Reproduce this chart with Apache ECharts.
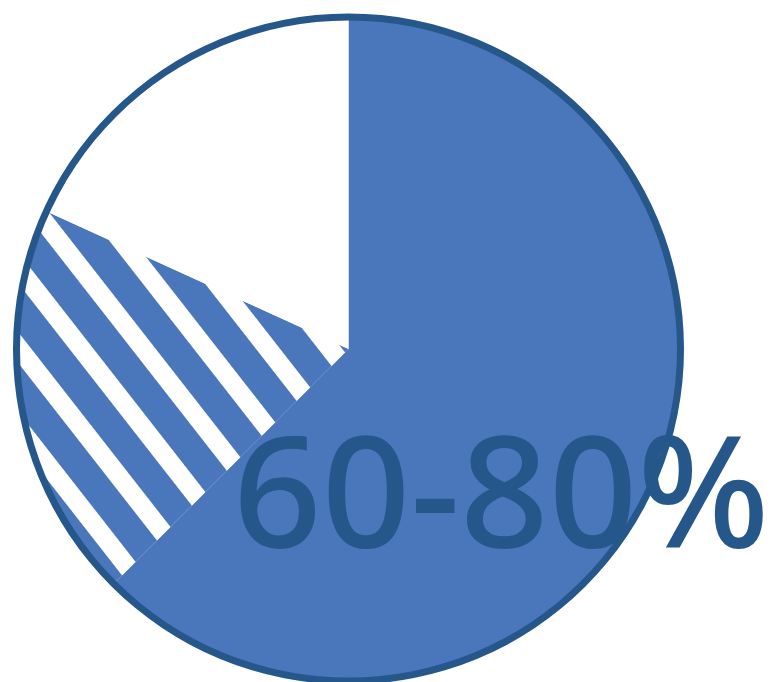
<!DOCTYPE html>
<html>
<head>
<meta charset="utf-8">
<script src="https://cdn.jsdelivr.net/npm/echarts@6/dist/echarts.min.js"></script>
<style>
  html, body { margin: 0; padding: 0; background: #ffffff; }
  #chart { width: 773px; height: 682px; }
</style>
</head>
<body>
<div id="chart"></div>
<script>
// ---- data ----
var categories = ['Filled', 'Partial', 'Empty'];
var values = [62.5, 19.3, 18.2];
var labelText = '60-80%';

// ---- styles ----
var solidBlue = '#4a77bb';
var darkBlue = '#26578b';

// diagonal stripe pattern (blue bands on white)
var tile = document.createElement('canvas');
tile.width = 10; tile.height = 49;
var tctx = tile.getContext('2d');
tctx.fillStyle = '#ffffff';
tctx.fillRect(0, 0, 10, 49);
tctx.fillStyle = solidBlue;
tctx.fillRect(0, 19, 10, 30);
var stripePattern = {
  image: tile,
  repeat: 'repeat',
  x: 48, y: 211,
  rotation: 52 * Math.PI / 180
};

var sliceColors = [solidBlue, stripePattern, '#ffffff'];

var chart = echarts.init(document.getElementById('chart'), null, { renderer: 'canvas' });
chart.setOption({
  animation: false,
  backgroundColor: '#ffffff',
  series: [
    {
      type: 'pie',
      center: [348.5, 349],
      radius: [0, 331],
      startAngle: 90,
      clockwise: true,
      silent: true,
      label: { show: false },
      labelLine: { show: false },
      emphasis: { disabled: true },
      itemStyle: { borderWidth: 0 },
      data: categories.map(function (c, i) {
        return { name: c, value: values[i], itemStyle: { color: sliceColors[i], borderWidth: 0 } };
      })
    },
    {
      type: 'pie',
      center: [348.5, 349],
      radius: [328.5, 335.5],
      silent: true,
      label: { show: false },
      labelLine: { show: false },
      emphasis: { disabled: true },
      itemStyle: { color: darkBlue, borderWidth: 0 },
      data: [{ name: 'outline', value: 1 }]
    }
  ],
  graphic: [
    {
      type: 'text',
      silent: true,
      z: 100,
      style: {
        x: 233,
        y: 425,
        text: labelText,
        fill: darkBlue,
        fontFamily: '"Noto Sans", "Open Sans", sans-serif',
        fontSize: 155,
        fontWeight: 500,
        verticalAlign: 'top',
        align: 'left'
      }
    }
  ]
});
</script>
</body>
</html>
